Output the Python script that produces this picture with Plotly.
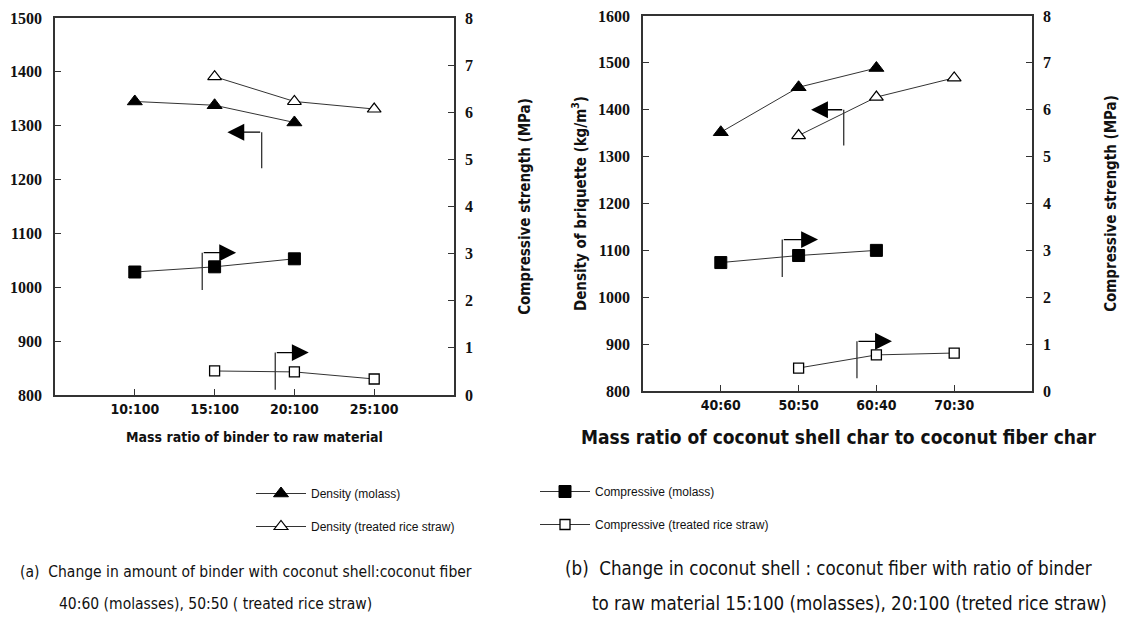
import plotly.graph_objects as go

# ---------------- data ----------------
cats_a = ["10:100", "15:100", "20:100", "25:100"]
dens_molass_a = [1345, 1338, 1306, None]
dens_rice_a = [None, 1391, 1345, 1331]
comp_molass_a = [2.61, 2.72, 2.89, None]
comp_rice_a = [None, 0.51, 0.49, 0.34]

cats_b = ["40:60", "50:50", "60:40", "70:30"]
dens_molass_b = [1352, 1448, 1489, None]
dens_rice_b = [None, 1345, 1427, 1468]
comp_molass_b = [2.74, 2.89, 3.00, None]
comp_rice_b = [None, 0.49, 0.77, 0.81]

series_names = ["Density (molass)", "Density (treated rice straw)",
                "Compressive (molass)", "Compressive (treated rice straw)"]

xlabel_a = "Mass ratio of binder to raw material"
xlabel_b = "Mass ratio of coconut shell char to coconut fiber char"
ylabel_dens = "Density of briquette (kg/m<sup>3</sup>)"
ylabel_comp = "Compressive strength (MPa)"
caption_a = ["(a)  Change in amount of binder with coconut shell:coconut fiber",
             "40:60 (molasses), 50:50 ( treated rice straw)"]
caption_b = ["(b)  Change in coconut shell : coconut fiber with ratio of binder",
             "to raw material 15:100 (molasses), 20:100 (treted rice straw)"]

# ---------------- geometry helpers ----------------
# the page body has an 8px margin, so the figure starts at (8, 8) of the window
OFF = 8
W, H = 1136 - OFF, 617 - OFF


def px(X):
    return (X - OFF) / W


def py(Y):
    return 1 - (Y - OFF) / H


# ---------------- styles ----------------
LINE = "#333333"
NARROW = "Liberation Sans Narrow, DejaVu Sans Condensed, Liberation Sans, sans-serif"
SERIF = "Liberation Serif, DejaVu Serif, serif"
SANS = "Liberation Sans, Arial, sans-serif"

styles = [
    dict(symbol="triangle-up", size=13, color="black", line=dict(color="black", width=1)),
    dict(symbol="triangle-up", size=12, color="white", line=dict(color="black", width=1.2)),
    dict(symbol="square", size=12, color="black", line=dict(color="black", width=1)),
    dict(symbol="square", size=10, color="white", line=dict(color="black", width=1.3)),
]

fig = go.Figure()


def add_panel(cats, dm, dr, cm, cr, xa, yd, yc, show):
    vals = [(dm, yd), (dr, yd), (cm, yc), (cr, yc)]
    for i, (v, ya) in enumerate(vals):
        fig.add_trace(go.Scatter(
            x=cats, y=v, mode="lines+markers", name=series_names[i],
            line=dict(color=LINE, width=1), marker=styles[i],
            xaxis=xa, yaxis=ya, showlegend=show,
            legend="legend" if i < 2 else "legend2",
            legendgroup=str(i),
        ))


add_panel(cats_a, dens_molass_a, dens_rice_a, comp_molass_a, comp_rice_a, "x", "y", "y2", True)
add_panel(cats_b, dens_molass_b, dens_rice_b, comp_molass_b, comp_rice_b, "x2", "y3", "y4", False)

# ---------------- axes ----------------
common = dict(showline=True, linecolor=LINE, linewidth=1.5, showgrid=False, zeroline=False,
              ticks="inside", ticklen=6, tickcolor=LINE, tickwidth=1.2, automargin=False,
              ticklabeloverflow="allow")
ytick = dict(family=SERIF, size=16, color="#111", weight="bold")
xtick = dict(family=NARROW, size=14, color="#111", weight="bold")
ytitle = dict(family=NARROW, size=15, color="#111", weight="bold")

fig.update_layout(
    xaxis=dict(domain=[px(55), px(454)], anchor="y", type="category", range=[-1, 4],
               mirror=True, tickfont=xtick, **common),
    yaxis=dict(domain=[py(395), py(18)], anchor="x", range=[800, 1500], dtick=100,
               tickfont=ytick, ticklabelstandoff=8, **common),
    yaxis2=dict(overlaying="y", side="right", anchor="x", range=[0, 8], dtick=1,
                tickfont=ytick, ticklabelstandoff=6,
                title=dict(text=ylabel_comp, font=ytitle, standoff=48), **common),
    xaxis2=dict(domain=[px(643), px(1032)], anchor="y3", type="category", range=[-1, 4],
                mirror=True, tickfont=xtick, **common),
    yaxis3=dict(domain=[py(391), py(16)], anchor="x2", range=[800, 1600], dtick=100,
                tickfont=ytick, ticklabelstandoff=8,
                title=dict(text=ylabel_dens, font=ytitle, standoff=8), **common),
    yaxis4=dict(overlaying="y3", side="right", anchor="x2", range=[0, 8], dtick=1,
                tickfont=ytick, ticklabelstandoff=6,
                title=dict(text=ylabel_comp, font=ytitle, standoff=56), **common),
)

# ---------------- arrows (guide annotations) ----------------
# (axis x, axis y, vertical x, bottom y, corner y, tip x)
arrows = [
    ("x", "y", 1.59, 1221, 1288, 1.16),
    ("x", "y2", 0.845, 2.23, 3.02, 1.27),
    ("x", "y2", 1.76, 0.11, 0.90, 2.18),
    ("x2", "y3", 1.58, 1324, 1400, 1.16),
    ("x2", "y4", 0.79, 2.43, 3.23, 1.25),
    ("x2", "y4", 1.75, 0.27, 1.06, 2.20),
]
for xa, ya, vx, yb, yc, tx in arrows:
    fig.add_shape(type="line", xref=xa, yref=ya, x0=vx, x1=vx, y0=yb, y1=yc,
                  line=dict(color=LINE, width=1.3))
    fig.add_annotation(xref=xa, yref=ya, axref=xa, ayref=ya, x=tx, y=yc, ax=vx, ay=yc,
                       text="", showarrow=True, arrowhead=2, arrowsize=2.6,
                       arrowwidth=1.3, arrowcolor="black", standoff=0)

# ---------------- x titles & captions ----------------
fig.add_annotation(xref="paper", yref="paper", x=px(254), y=py(437),
                   text=xlabel_a, showarrow=False, xanchor="center", yanchor="middle",
                   font=dict(family=NARROW, size=14, color="#111", weight="bold"))
fig.add_annotation(xref="paper", yref="paper", x=px(838), y=py(437),
                   text=xlabel_b, showarrow=False, xanchor="center", yanchor="middle",
                   font=dict(family=NARROW, size=19, color="#111", weight="bold"))

cap_font_a = dict(family=NARROW, size=15.5, color="#111")
cap_font_b = dict(family=NARROW, size=18.6, color="#111")
for X, Y, t, f in [(18, 572, caption_a[0], cap_font_a), (57, 604, caption_a[1], cap_font_a),
                   (563, 568, caption_b[0], cap_font_b), (590, 603, caption_b[1], cap_font_b)]:
    fig.add_annotation(xref="paper", yref="paper", x=px(X), y=py(Y), text=t,
                       showarrow=False, xanchor="left", yanchor="middle", font=f)

# ---------------- legends ----------------
leg_common = dict(xanchor="left", yanchor="top", bgcolor="rgba(0,0,0,0)",
                  font=dict(family=SANS, size=12, color="#111"), tracegroupgap=14,
                  orientation="v", itemwidth=50)
fig.update_layout(
    legend=dict(x=px(251), y=py(479), **leg_common),
    legend2=dict(x=px(535), y=py(477), **leg_common),
    width=W, height=H, margin=dict(l=0, r=0, t=0, b=0),
    paper_bgcolor="white", plot_bgcolor="white",
)

fig.write_html("out.html")
